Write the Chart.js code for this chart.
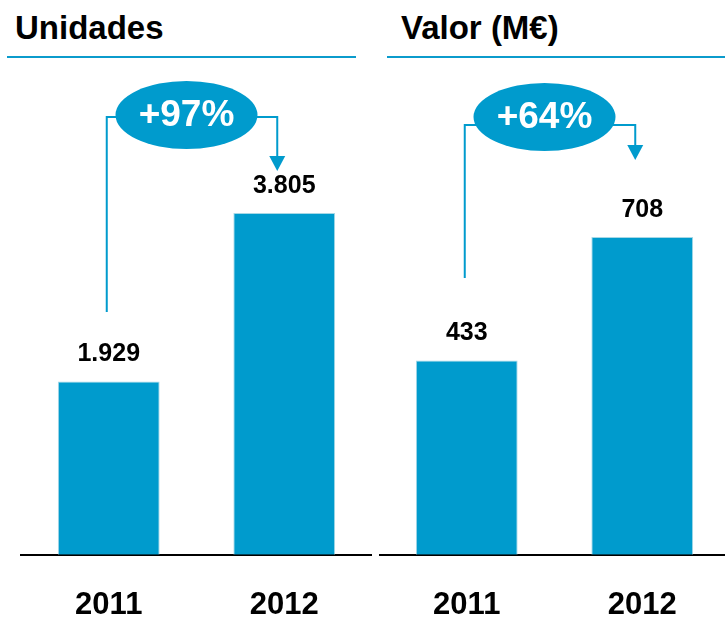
<!DOCTYPE html>
<html>
<head>
<meta charset="utf-8">
<script src="https://cdn.jsdelivr.net/npm/chart.js@4.4.1/dist/chart.umd.min.js"></script>
<style>
  html, body { margin: 0; padding: 0; background: #fff; overflow: hidden; }
  body { position: relative; width: 725px; height: 626px; font-family: 'Liberation Sans', Arial, sans-serif; }
  .titulo { position: absolute; top: 11px; font-size: 33px; line-height: 33px; font-weight: bold; color: #000; white-space: nowrap; }
  .regla { position: absolute; top: 56px; height: 2px; background: #0b9bcc; }
  canvas { position: absolute; top: 0; }
</style>
</head>
<body>
<div class="titulo" style="left:15px">Unidades</div>
<div class="regla" style="left:7px;width:349px"></div>
<div class="titulo" style="left:401px">Valor (M€)</div>
<div class="regla" style="left:387px;width:338px"></div>
<canvas id="c-unidades" width="372" height="659" style="left:0;width:372px;height:659px"></canvas>
<canvas id="c-valor" width="351" height="659" style="left:379px;width:351px;height:659px"></canvas>
<script>
const years = ['2011', '2012'];
const unidades = [1929, 3805];
const unidadesLabels = ['1.929', '3.805'];
const valor = [433, 708];
const valorLabels = ['433', '708'];
const crecimientoUnidades = '+97%';
const crecimientoValor = '+64%';

const AZUL = '#009bcd';
const FONT = "'Liberation Sans', Arial, sans-serif";

// Etiquetas encima de cada barra + globo de crecimiento con sus flechas.
const decoraciones = {
  id: 'decoraciones',
  afterDatasetsDraw(chart, args, opts) {
    const ctx = chart.ctx;
    const bars = chart.getDatasetMeta(0).data;
    ctx.save();

    ctx.fillStyle = '#000';
    ctx.font = 'bold 25px ' + FONT;
    ctx.textAlign = 'center';
    ctx.textBaseline = 'middle';
    bars.forEach((b, i) => ctx.fillText(opts.labels[i], b.x, b.y - 27));

    const x0 = bars[0].x - 2;
    const x1 = bars[1].x - 7;
    const cx = (bars[0].x + bars[1].x) / 2 - 10;

    ctx.strokeStyle = AZUL;
    ctx.lineWidth = 2;
    ctx.beginPath();
    ctx.moveTo(x0, opts.leftEnd);
    ctx.lineTo(x0, opts.joinY);
    ctx.lineTo(cx, opts.joinY);
    ctx.moveTo(cx, opts.joinY);
    ctx.lineTo(x1, opts.joinY);
    ctx.lineTo(x1, opts.arrowTop);
    ctx.stroke();

    ctx.fillStyle = AZUL;
    ctx.beginPath();
    ctx.moveTo(x1 - 8, opts.arrowTop);
    ctx.lineTo(x1 + 8, opts.arrowTop);
    ctx.lineTo(x1, opts.arrowTip);
    ctx.closePath();
    ctx.fill();

    ctx.beginPath();
    ctx.ellipse(cx, opts.cy, 71, 34, 0, 0, Math.PI * 2);
    ctx.fill();

    ctx.fillStyle = '#fff';
    ctx.font = 'bold 37px ' + FONT;
    ctx.fillText(opts.text, cx, opts.cy + 1);
    ctx.restore();
  }
};

function crearGrafico(id, values, labels, yMax, padLeft, anot) {
  return new Chart(document.getElementById(id), {
    type: 'bar',
    data: {
      labels: years,
      datasets: [{
        data: values,
        backgroundColor: AZUL,
        borderColor: '#a6d8e6',
        borderWidth: 1,
        borderSkipped: 'bottom',
        categoryPercentage: 1,
        barPercentage: 0.58,
      }],
    },
    options: {
      responsive: false,
      animation: false,
      events: [],
      layout: { padding: { top: 100, left: padLeft, right: 0, bottom: 3 } },
      plugins: {
        legend: { display: false },
        tooltip: { enabled: false },
        decoraciones: Object.assign({ labels }, anot),
      },
      scales: {
        x: {
          grid: { display: false, drawTicks: false },
          border: { display: true, color: '#000', width: 2 },
          ticks: { color: '#000', padding: 32, font: { family: FONT, size: 31, weight: 'bold' } },
        },
        y: { display: false, min: 0, max: yMax },
      },
    },
    plugins: [decoraciones],
  });
}

crearGrafico('c-unidades', unidades, unidadesLabels, 5062, 21,
  { text: crecimientoUnidades, cy: 115, joinY: 117, leftEnd: 312, arrowTop: 156, arrowTip: 171 });
crearGrafico('c-valor', valor, valorLabels, 1013, 0,
  { text: crecimientoValor, cy: 117, joinY: 125, leftEnd: 278, arrowTop: 145, arrowTip: 160 });
</script>
</body>
</html>
